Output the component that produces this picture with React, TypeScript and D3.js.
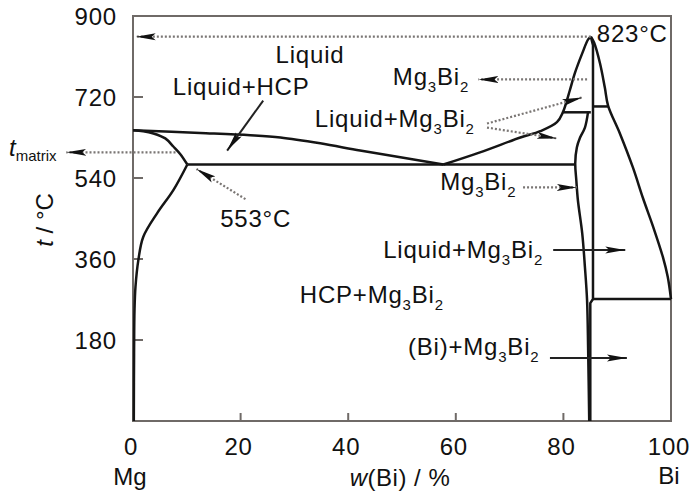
import React from 'react';
import * as d3 from 'd3';

type Pt = [number, number];

// axis ticks
const xTickLabels = [0, 20, 40, 60, 80, 100];
const xTickMarks = [20, 40, 60, 80];
const yTickLabels = [180, 360, 540, 720, 900];
const yTickMarks = [180, 360, 540, 720];

// phase boundaries, [w(Bi) %, t °C]
const liquidusMg: Pt[] = [[0, 646], [12.5, 640], [21.8, 635], [27.4, 630], [34.8, 617], [42.2, 601], [49.7, 586], [57.7, 570]];
const solidusMg: Pt[] = [[0, 646], [1.9, 644], [3.8, 639], [6, 628], [7.5, 610], [8.8, 593], [10.1, 570]];
const solvusMg: Pt[] = [[10.1, 570], [7.5, 513], [4.5, 462], [1.9, 409], [1.0, 358], [0.46, 298], [0.28, 247], [0.2, 150], [0.15, 0]];
const liquidusCmpLeft: Pt[] = [[57.7, 570], [64.5, 597], [72, 630], [75.7, 644], [78.8, 664], [79.9, 686], [81.2, 735], [82.1, 772], [83.5, 817], [84.6, 848], [85.1, 854]];
const liquidusCmpRight: Pt[] = [[85.1, 854], [85.7, 841], [86.8, 795], [87.7, 741], [88.3, 701], [90.5, 639], [92.9, 564], [94.8, 495], [96.7, 431], [98.5, 364], [99.4, 320], [100, 271]];
const cmpMgSide: Pt[] = [[84.6, 688], [84.0, 652], [83.1, 630], [82.5, 608], [82.2, 573], [82.4, 535], [82.7, 490], [83.5, 417], [84.0, 342], [84.4, 268], [84.6, 157], [84.8, 0]];
const cmpBiSide: Pt[] = [[85.1, 854], [85.5, 835], [85.5, 271], [85.0, 262], [85.0, 0]];
const isotherms: Pt[][] = [
  [[10.1, 570], [82.2, 570]],
  [[79.9, 686], [85.1, 686]],
  [[85.5, 699], [88.3, 699]],
  [[85.5, 271], [100, 271]],
];

// annotation arrows
const dottedArrows: { from: Pt; to: Pt }[] = [
  { from: [85.1, 854], to: [0.5, 854] },
  { from: [7.9, 597], to: [-12.4, 597] },
  { from: [20.9, 493], to: [11.8, 560] },
  { from: [84.4, 759], to: [64.2, 759] },
  { from: [65.8, 661], to: [83.5, 719] },
  { from: [65.8, 652], to: [78.8, 628] },
  { from: [72.5, 519], to: [82.5, 519] },
];
const solidArrows: { from: Pt; to: Pt }[] = [
  { from: [24.2, 712], to: [17.5, 601] },
  { from: [78.1, 380], to: [91.5, 380] },
  { from: [77.5, 140], to: [91.8, 140] },
];

// region labels: text, left x (%), baseline (°C); "_n" marks a subscript
const labels: { text: string; at: Pt }[] = [
  { text: 'Liquid', at: [26.5, 796] },
  { text: 'Liquid+HCP', at: [7.4, 724] },
  { text: 'Mg_3Bi_2', at: [48.3, 747] },
  { text: 'Liquid+Mg_3Bi_2', at: [33.8, 653] },
  { text: '823°C', at: [86.2, 842] },
  { text: 'Mg_3Bi_2', at: [57.1, 513] },
  { text: '553°C', at: [16.2, 431] },
  { text: 'Liquid+Mg_3Bi_2', at: [46.5, 362] },
  { text: 'HCP+Mg_3Bi_2', at: [31, 262] },
  { text: '(Bi)+Mg_3Bi_2', at: [51.1, 147] },
];

const FONT = '"Liberation Sans", Arial, sans-serif';

const SubText: React.FC<{ text: string; x: number; y: number }> = ({ text, x, y }) => {
  const parts = text.split(/(_\d)/).filter(p => p !== '');
  return (
    <text x={x} y={y} fontSize={24} letterSpacing={0.8} fill="#111">
      {parts.map((p, i) =>
        p.startsWith('_') ? (
          <tspan key={i} fontSize={15} dy={7}>{p.slice(1)}</tspan>
        ) : (
          <tspan key={i} dy={i > 0 ? -7 : 0}>{p}</tspan>
        )
      )}
    </text>
  );
};

export default function App() {
  const width = 700;
  const height = 500;
  const x = d3.scaleLinear().domain([0, 100]).range([133, 671]);
  const y = d3.scaleLinear().domain([0, 900]).range([421, 16]);

  const smooth = d3.line<Pt>().x(d => x(d[0])).y(d => y(d[1])).curve(d3.curveCatmullRom.alpha(0.5));
  const straight = d3.line<Pt>().x(d => x(d[0])).y(d => y(d[1]));

  const curves = [liquidusMg, solidusMg, solvusMg, liquidusCmpLeft, liquidusCmpRight, cmpMgSide];
  const frame = '#6f6a67';

  return (
    <svg width={width} height={height} style={{ position: 'absolute', left: 0, top: 0, background: '#fff' }} fontFamily={FONT}>
      <defs>
        <marker id="head" viewBox="0 0 20 8" refX={20} refY={4} markerWidth={20} markerHeight={8} markerUnits="userSpaceOnUse" orient="auto">
          <path d="M0,0.5 L20,4 L0,7.5 L4,4 Z" fill="#111" />
        </marker>
      </defs>

      {/* frame */}
      <rect x={x(0)} y={y(900)} width={x(100) - x(0)} height={y(0) - y(900)} fill="none" stroke={frame} strokeWidth={2} />
      {xTickMarks.map(t => (
        <line key={'xt' + t} x1={x(t)} x2={x(t)} y1={y(0)} y2={y(0) - 8} stroke={frame} strokeWidth={2} />
      ))}
      {yTickMarks.map(t => (
        <line key={'yt' + t} x1={x(0)} x2={x(0) + 10} y1={y(t)} y2={y(t)} stroke={frame} strokeWidth={2} />
      ))}

      {/* tick labels */}
      {xTickLabels.map(t => (
        <text key={'xl' + t} x={x(t) - 2} y={455} textAnchor="middle" fontSize={24} letterSpacing={0.8} fill="#111">{t}</text>
      ))}
      {yTickLabels.map(t => (
        <text key={'yl' + t} x={117} y={y(t) + 9} textAnchor="end" fontSize={24} letterSpacing={0.8} fill="#111">{t}</text>
      ))}

      {/* axis titles */}
      <text x={x(0) - 3} y={485} textAnchor="middle" fontSize={24} fill="#111">Mg</text>
      <text x={x(100) - 2} y={484} textAnchor="middle" fontSize={24} fill="#111">Bi</text>
      <text x={400} y={486} textAnchor="middle" fontSize={24} letterSpacing={0.5} fill="#111">
        <tspan fontStyle="italic">w</tspan>(Bi) / %
      </text>
      <text transform="translate(53,220) rotate(-90)" textAnchor="middle" fontSize={24} fill="#111">
        <tspan fontStyle="italic">t</tspan> / °C
      </text>
      <text x={9} y={156} fill="#111">
        <tspan fontSize={24} fontStyle="italic">t</tspan>
        <tspan fontSize={15} dy={5}>matrix</tspan>
      </text>

      {/* phase boundaries */}
      {curves.map((c, i) => (
        <path key={'c' + i} d={smooth(c) || ''} fill="none" stroke="#151515" strokeWidth={2.5} strokeLinejoin="round" />
      ))}
      <path d={straight(cmpBiSide) || ''} fill="none" stroke="#151515" strokeWidth={2.5} strokeLinejoin="round" />
      {isotherms.map((c, i) => (
        <path key={'h' + i} d={straight(c) || ''} fill="none" stroke="#151515" strokeWidth={2.5} />
      ))}

      {/* arrows */}
      {dottedArrows.map((a, i) => (
        <line key={'da' + i} x1={x(a.from[0])} y1={y(a.from[1])} x2={x(a.to[0])} y2={y(a.to[1])}
          stroke="#7a7674" strokeWidth={2.2} strokeDasharray="2 2" markerEnd="url(#head)" />
      ))}
      {solidArrows.map((a, i) => (
        <line key={'sa' + i} x1={x(a.from[0])} y1={y(a.from[1])} x2={x(a.to[0])} y2={y(a.to[1])}
          stroke="#222" strokeWidth={2} markerEnd="url(#head)" />
      ))}

      {/* region labels */}
      {labels.map((l, i) => (
        <SubText key={'l' + i} text={l.text} x={x(l.at[0])} y={y(l.at[1])} />
      ))}
    </svg>
  );
}
